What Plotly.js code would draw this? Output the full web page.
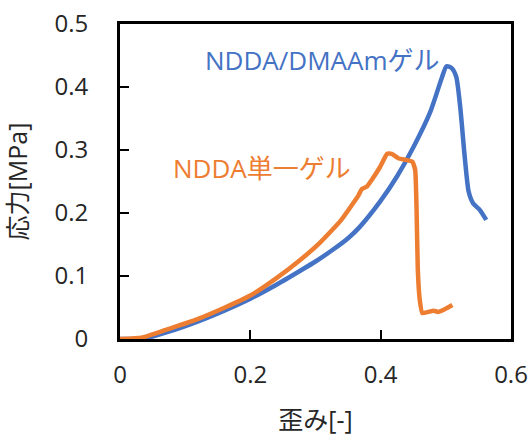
<!DOCTYPE html>
<html>
<head>
<meta charset="utf-8">
<script src="https://cdn.plot.ly/plotly-3.0.1.min.js"></script>
<style>html,body{margin:0;padding:0;background:#fff;}#chart{width:531px;height:436px;}</style>
</head>
<body>
<div id="chart"></div>
<script>
// NDDA/DMAAm gel (blue)
const blueStrain = [0, 0.02, 0.038, 0.07, 0.12, 0.16, 0.2, 0.238, 0.276, 0.3, 0.327, 0.35, 0.368, 0.399, 0.425, 0.45, 0.476, 0.494, 0.501, 0.509, 0.516, 0.522, 0.529, 0.535, 0.542, 0.552, 0.562];
const blueStress = [0, 0, 0.001, 0.010, 0.028, 0.045, 0.064, 0.085, 0.108, 0.123, 0.142, 0.160, 0.178, 0.218, 0.258, 0.304, 0.360, 0.415, 0.433, 0.430, 0.416, 0.369, 0.289, 0.234, 0.215, 0.205, 0.189];
// NDDA single gel (orange)
const orangeStrain = [0, 0.033, 0.069, 0.12, 0.161, 0.2, 0.238, 0.276, 0.307, 0.338, 0.366, 0.371, 0.379, 0.386, 0.399, 0.41, 0.417, 0.427, 0.44, 0.449, 0.453, 0.455, 0.457, 0.46, 0.464, 0.473, 0.481, 0.488, 0.496, 0.51];
const orangeStress = [0, 0.002, 0.014, 0.032, 0.050, 0.069, 0.095, 0.125, 0.153, 0.187, 0.228, 0.238, 0.242, 0.252, 0.273, 0.294, 0.294, 0.287, 0.284, 0.281, 0.268, 0.21, 0.11, 0.062, 0.041, 0.043, 0.045, 0.043, 0.046, 0.054];
const xTicks = [0, 0.2, 0.4, 0.6];
const xTickLabels = ["0", "0.2", "0.4", "0.6"];
const yTicks = [0, 0.1, 0.2, 0.3, 0.4, 0.5];
const yTickLabels = ["0", "0.1", "0.2", "0.3", "0.4", "0.5"];
const blueName = "NDDA/DMAAmゲル";
const orangeName = "NDDA単一ゲル";
const xTitle = "歪み[-]";
const yTitle = "応力[MPa]";

const BLUE = "#4472C4", ORANGE = "#ED7D31";
const FONT = "Open Sans, Noto Sans CJK JP, sans-serif";
const TXT = "#262626";

const traces = [
  {x: blueStrain, y: blueStress, type: "scatter", mode: "lines", name: blueName,
   line: {color: BLUE, width: 4.5, shape: "spline", smoothing: 0.6}},
  {x: orangeStrain, y: orangeStress, type: "scatter", mode: "lines", name: orangeName,
   line: {color: ORANGE, width: 4.5, shape: "spline", smoothing: 0.4}}
];

const layout = {
  width: 531, height: 436,
  margin: {l: 120, r: 20, t: 24, b: 97},
  paper_bgcolor: "#fff", plot_bgcolor: "#fff",
  showlegend: false,
  font: {family: FONT, size: 24, color: TXT},
  xaxis: {
    range: [0, 0.6], tickvals: xTicks, ticktext: xTickLabels,
    showgrid: false, zeroline: false,
    showline: true, mirror: true, linecolor: "#000", linewidth: 3,
    ticks: "inside", ticklen: 9, tickwidth: 2, tickcolor: "#000",
    ticklabelstandoff: 12,
    tickfont: {family: FONT, size: 24, color: TXT},
    title: {text: xTitle, font: {family: FONT, size: 25, color: TXT}, standoff: 31}
  },
  yaxis: {
    range: [0, 0.5], tickvals: yTicks, ticktext: yTickLabels,
    showgrid: false, zeroline: false,
    showline: true, mirror: true, linecolor: "#000", linewidth: 3,
    ticks: "inside", ticklen: 9, tickwidth: 2, tickcolor: "#000",
    ticklabelstandoff: 24,
    tickfont: {family: FONT, size: 24, color: TXT},
    title: {text: yTitle, font: {family: FONT, size: 25, color: TXT}, standoff: 20}
  },
  annotations: [
    {x: 0.127, y: 0.443, xref: "x", yref: "y", text: blueName, showarrow: false,
     xanchor: "left", yanchor: "middle", font: {family: FONT, size: 26, color: BLUE}},
    {x: 0.078, y: 0.271, xref: "x", yref: "y", text: orangeName, showarrow: false,
     xanchor: "left", yanchor: "middle", font: {family: FONT, size: 26, color: ORANGE}}
  ]
};

Plotly.newPlot("chart", traces, layout, {displayModeBar: false, staticPlot: true});
</script>
</body>
</html>
